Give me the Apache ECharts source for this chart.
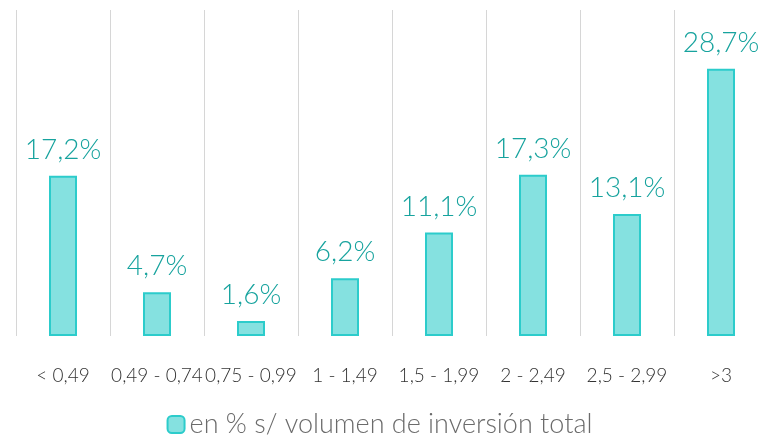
<!DOCTYPE html>
<html>
<head>
<meta charset="utf-8">
<script src="https://cdn.jsdelivr.net/npm/echarts@6/dist/echarts.min.js"></script>
<style>
  html, body { margin: 0; padding: 0; background: #fff; }
  #chart { width: 759px; height: 443px; }
</style>
</head>
<body>
<div id="chart"></div>
<script>
// tramos de rentabilidad
const categories = ['< 0,49', '0,49 - 0,74', '0,75 - 0,99', '1 - 1,49', '1,5 - 1,99', '2 - 2,49', '2,5 - 2,99', '>3']
const values = [17.2, 4.7, 1.6, 6.2, 11.1, 17.3, 13.1, 28.7]
const seriesName = 'en % s/ volumen de inversión total'

let chart = echarts.init(document.getElementById('chart'))
chart.setOption({
  backgroundColor: '#fff',
  textStyle: { fontFamily: 'Lato', fontWeight: 300 },
  legend: {
    data: [seriesName],
    bottom: 0,
    left: 'center',
    itemWidth: 17,
    itemHeight: 17,
    itemGap: 5,
    textStyle: { color: '#6b6b6b', fontSize: 27, fontFamily: 'Lato', fontWeight: 300 }
  },
  grid: { left: 16, width: 752, top: 10, bottom: 107, outerBoundsMode: 'none', containLabel: false },
  xAxis: {
    type: 'category',
    data: categories,
    axisLine: { show: false },
    axisTick: { show: false },
    axisLabel: { color: '#333', fontSize: 19, fontWeight: 300, margin: 30, interval: 0 },
    splitLine: { show: true, lineStyle: { color: '#d6d6d6', width: 1 } }
  },
  yAxis: {
    type: 'value',
    min: 0,
    max: 35,
    show: false,
    splitLine: { show: false }
  },
  series: [{
    name: seriesName,
    type: 'bar',
    data: values,
    barWidth: 28,
    itemStyle: { color: '#85e1e0', borderColor: '#2ccccb', borderWidth: 2 },
    label: {
      show: true,
      position: 'top',
      distance: 12,
      color: '#17a39e',
      fontSize: 28,
      fontWeight: 300,
      formatter: p => p.value.toFixed(1).replace('.', ',') + '%'
    }
  }]
})
</script>
</body>
</html>
